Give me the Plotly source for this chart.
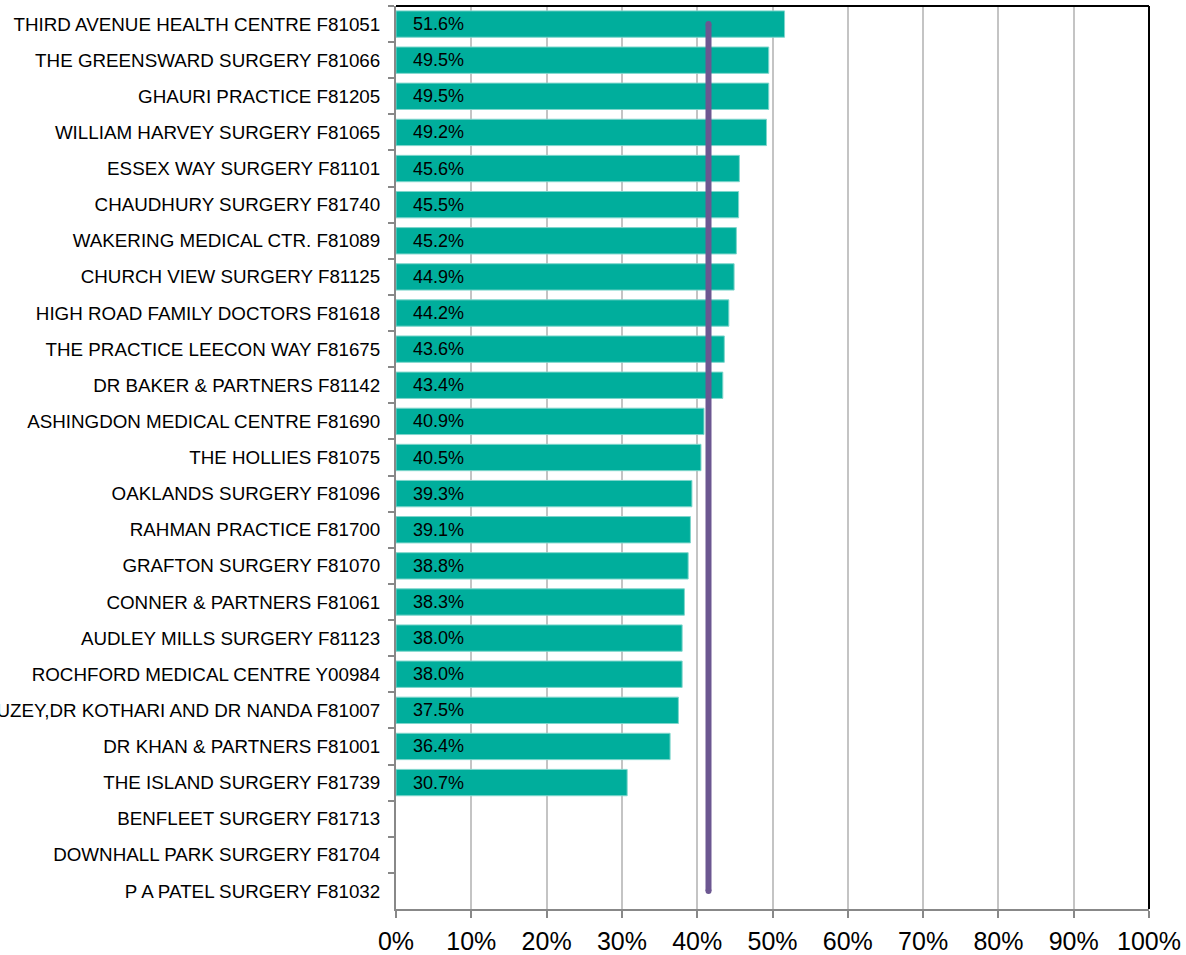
import plotly.graph_objects as go

practices = [
    "THIRD AVENUE HEALTH CENTRE F81051",
    "THE GREENSWARD SURGERY F81066",
    "GHAURI PRACTICE F81205",
    "WILLIAM HARVEY SURGERY F81065",
    "ESSEX WAY SURGERY F81101",
    "CHAUDHURY SURGERY F81740",
    "WAKERING MEDICAL CTR. F81089",
    "CHURCH VIEW SURGERY F81125",
    "HIGH ROAD FAMILY DOCTORS F81618",
    "THE PRACTICE LEECON WAY F81675",
    "DR BAKER & PARTNERS F81142",
    "ASHINGDON MEDICAL CENTRE F81690",
    "THE HOLLIES F81075",
    "OAKLANDS SURGERY F81096",
    "RAHMAN PRACTICE F81700",
    "GRAFTON SURGERY F81070",
    "CONNER & PARTNERS F81061",
    "AUDLEY MILLS SURGERY F81123",
    "ROCHFORD MEDICAL CENTRE Y00984",
    "DR FAUZEY,DR KOTHARI AND DR NANDA F81007",
    "DR KHAN & PARTNERS F81001",
    "THE ISLAND SURGERY F81739",
    "BENFLEET SURGERY F81713",
    "DOWNHALL PARK SURGERY F81704",
    "P A PATEL SURGERY F81032",
]
values = [51.6, 49.5, 49.5, 49.2, 45.6, 45.5, 45.2, 44.9, 44.2, 43.6, 43.4,
          40.9, 40.5, 39.3, 39.1, 38.8, 38.3, 38.0, 38.0, 37.5, 36.4, 30.7,
          None, None, None]
benchmark = 41.5
x_ticks = [0, 10, 20, 30, 40, 50, 60, 70, 80, 90, 100]
x_tick_labels = [f"{t}%" for t in x_ticks]

FONT = "Liberation Sans, Arial, sans-serif"

fig = go.Figure()
fig.add_trace(go.Bar(
    y=practices, x=values, orientation="h",
    marker=dict(color="#00AE9C", line=dict(color="#7FD6CC", width=1)),
    width=0.73, hoverinfo="x+y", showlegend=False,
))
fig.add_trace(go.Scatter(
    x=[benchmark, benchmark], y=[practices[0], practices[-1]],
    mode="lines+markers",
    line=dict(color="#6C5791", width=6),
    marker=dict(color="#6C5791", size=6, line=dict(width=0)),
    showlegend=False, hoverinfo="skip",
))

annotations = []
for p, v in zip(practices, values):
    if v is None:
        continue
    annotations.append(dict(
        x=0, y=p, xref="x", yref="y", text=f"{v:.1f}%",
        showarrow=False, xanchor="left", yanchor="middle", xshift=15,
        font=dict(family=FONT, size=18, color="#000000"),
    ))

shapes = [
    dict(type="line", xref="paper", yref="paper", x0=0, x1=1, y0=1, y1=1,
         line=dict(color="#000000", width=2)),
    dict(type="line", xref="paper", yref="paper", x0=1, x1=1, y0=0, y1=1,
         line=dict(color="#000000", width=2)),
]

fig.update_layout(
    width=1186, height=955,
    margin=dict(l=396, r=37, t=6, b=46, autoexpand=False),
    paper_bgcolor="white", plot_bgcolor="white",
    font=dict(family=FONT, color="#000000"),
    annotations=annotations, shapes=shapes,
    xaxis=dict(
        range=[0, 100], tickvals=x_ticks, ticktext=x_tick_labels,
        showgrid=True, gridcolor="#C4C4C4", gridwidth=1.5,
        showline=True, linecolor="#888888", linewidth=2,
        ticks="outside", ticklen=7, tickcolor="#888888", tickwidth=1.5,
        tickfont=dict(family=FONT, size=25, color="#000000"),
        ticklabelstandoff=2,
        zeroline=False, automargin=False, fixedrange=True,
    ),
    yaxis=dict(
        type="category", range=[len(practices) - 0.5, -0.5],
        showgrid=False, showline=True, linecolor="#888888", linewidth=2,
        ticks="outside", tickson="boundaries", ticklen=6,
        tickcolor="#888888", tickwidth=1.5,
        tickfont=dict(family=FONT, size=18.8, color="#000000"),
        ticklabelstandoff=10,
        automargin=False, fixedrange=True,
    ),
)

fig.write_html("out.html", config={"displayModeBar": False},
               post_script="document.body.style.margin='0';")
